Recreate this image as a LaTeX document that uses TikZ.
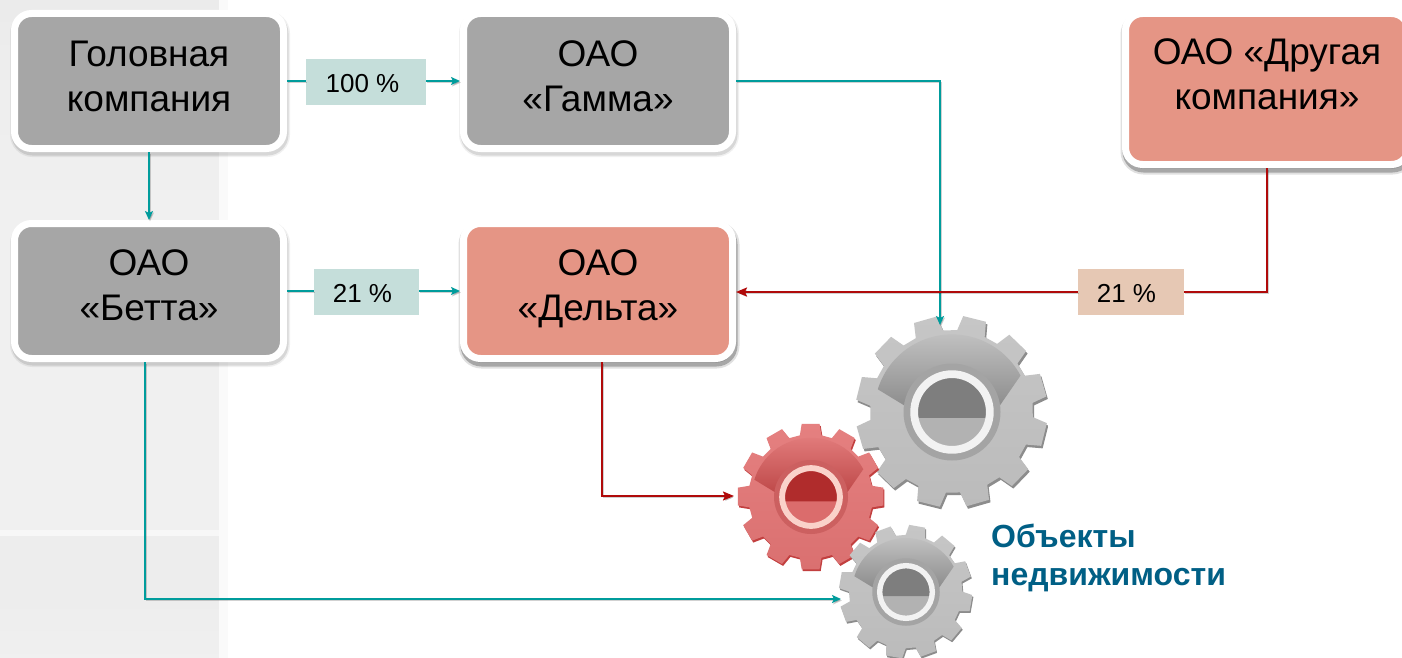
\documentclass[tikz,border=0pt]{standalone}
\usepackage{fontspec}
\setmainfont{Liberation Sans}
\usetikzlibrary{arrows.meta, positioning, shadows}
\definecolor{tealline}{HTML}{009C9C}
\definecolor{redline}{HTML}{B00A0A}
\definecolor{boxgray}{HTML}{A6A6A6}
\definecolor{boxred}{HTML}{E59585}
\definecolor{tagteal}{HTML}{C5DEDA}
\definecolor{tagred}{HTML}{E6C8B4}
\definecolor{objblue}{HTML}{005F85}
% gear palettes
\definecolor{grayrim}{HTML}{8C8C8C}
\definecolor{graytop}{HTML}{C6C6C6}
\definecolor{graybot}{HTML}{BBBBBB}
\definecolor{grayband}{HTML}{8E8E8E}
\definecolor{grayhub}{HTML}{A4A4A4}
\definecolor{grayeye}{HTML}{B2B2B2}
\definecolor{graypupil}{HTML}{7E7E7E}
\definecolor{grayring}{HTML}{F2F2F2}
\definecolor{redrim}{HTML}{C23F3F}
\definecolor{redtop}{HTML}{E58080}
\definecolor{redbot}{HTML}{DA7070}
\definecolor{redband}{HTML}{BF4A4A}
\definecolor{redhub}{HTML}{CC6060}
\definecolor{redeye}{HTML}{DB6C6C}
\definecolor{redpupil}{HTML}{B02C2C}
\definecolor{redring}{HTML}{FAD2CA}
\tikzset{
  softshadow/.style={drop shadow={shadow xshift=1pt, shadow yshift=-3pt, opacity=.06, draw=black, line width=11pt},
    drop shadow={shadow xshift=1pt, shadow yshift=-3pt, opacity=.10, draw=black, line width=8pt}},
  deepshadow/.style={drop shadow={shadow xshift=1pt, shadow yshift=-4pt, opacity=.12, draw=black, line width=12pt},
    drop shadow={shadow xshift=1pt, shadow yshift=-4pt, opacity=.25, draw=black, line width=8pt}},
  firm/.style={draw=white, line width=7pt, outer sep=3.5pt, rounded corners=17pt, minimum width=269pt, minimum height=135pt, inner sep=0pt, font=\fontsize{37}{45}\selectfont, text=black},
  firmgray/.style={firm, fill=boxgray, softshadow},
  firmred/.style={firm, fill=boxred},
  tag/.style={minimum height=46pt, inner sep=0pt, outer sep=0pt, text height=21pt, text depth=0pt, font=\fontsize{26}{30}\selectfont},
  lineshadow/.style={preaction={draw=black, opacity=.18, transform canvas={shift={(1pt,-1.5pt)}}}},
  tealarrow/.style={lineshadow, draw=tealline, line width=1.8pt, -{Stealth[length=9pt,width=8pt,inset=2pt]}},
  tealplain/.style={lineshadow, draw=tealline, line width=1.8pt},
  redarrow/.style={lineshadow, draw=redline, line width=1.8pt, -{Stealth[length=11pt,width=9pt,inset=2pt]}},
  redplain/.style={lineshadow, draw=redline, line width=1.8pt}
}
% two line text of a box, pushed up by a deep last line
\newcommand{\lifted}[2]{\begin{tabular}{@{}c@{}}#2\rule[-#1]{0pt}{0pt}\end{tabular}}
% #1 x, #2 y, #3 size, #4 rotation, #5 palette
\newcommand{\gearwheel}[5]{
  \begin{scope}[shift={(#1,#2)}, x=#3pt, y=#3pt]
    \foreach \dx/\dy/\ctop/\cbot in {1/-2/#5rim/#5rim, -.5/.6/#5top/#5bot}{
      \path[top color=\ctop, bottom color=\cbot, shift={(\dx,\dy)}] ({#4-20}:84)
        \foreach \i in {0,30,...,330}{
          -- ({#4+\i-10}:84) -- ({#4+\i-7}:99) -- ({#4+\i+7}:99) -- ({#4+\i+10}:84)
        } -- cycle;
    }
    \path[top color=#5top, bottom color=#5band] (163:80) arc (163:28:80) -- (8:50) -- (172:50) -- cycle;
    \fill[#5hub] (0,0) circle (50);
    \fill[#5eye] (0,0) circle (36);
    \fill[#5pupil] (-35,-6) arc (190:-10:35.5) -- cycle;
    \draw[#5ring, line width=8*#3pt] (0,0) circle (39);
  \end{scope}
}
\begin{document}
\begin{tikzpicture}[x=1pt, y=-1pt, on grid, node distance=210pt]
  \useasboundingbox (0,0) rectangle (1402,658);
  \clip (0,0) rectangle (1402,658);
  \fill[white] (0,0) rectangle (1402,658);
  % faint paper strip on the left
  \foreach \ya/\yb/\ca/\cb in {0/60/8/7,60/200/7/6,200/530/6/6,530/536/3/3,536/600/7/7,600/658/7/6}
    \shade[top color=black!\ca, bottom color=black!\cb] (0,\ya) rectangle (219,\yb);
  \fill[black!2] (219,0) rectangle (228,658);

  \gearwheel{952}{412}{.97}{76}{gray}
  \gearwheel{811}{497}{.74}{90}{red}
  \gearwheel{906}{592}{.675}{80}{gray}

  \node[firmgray] (head) at (149,81) {\lifted{16pt}{Головная\\компания}};
  \node[firmgray] (gamma) [right=449pt of head] {\lifted{16pt}{ОАО\\«Гамма»}};
  \node[firmgray] (betta) [below=of head] {\lifted{18pt}{ОАО\\«Бетта»}};
  \node[firmred, deepshadow] (delta) [right=449pt of betta] {\lifted{18pt}{ОАО\\«Дельта»}};
  \node[firmred, deepshadow, minimum width=283pt, minimum height=151pt] (other) at (1267,89) {\lifted{35pt}{ОАО «Другая\\компания»}};

  \node[tag, fill=tagteal, minimum width=120pt] (t_head) at (366,82) {100 \%\hspace*{7pt}};
  \node[tag, fill=tagteal, minimum width=105pt] (t_betta) at (366.5,292) {21 \%\hspace*{8pt}};
  \node[tag, fill=tagred, minimum width=106pt] (t_other) at (1131,292) {21 \%\hspace*{9pt}};

  \coordinate (c_big) at (940,325);
  \coordinate (c_red) at (734,496);
  \coordinate (c_low) at (841,599);

  \draw[tealplain] (head.east) -- (t_head.west |- head.east);
  \draw[tealarrow] (t_head.east |- gamma.west) -- (gamma.west);
  \draw[tealarrow] (head.south) -- (betta.north);
  \draw[tealarrow] (gamma.east) -| (c_big);
  \draw[tealplain] (betta.east) -- (t_betta.west |- betta.east);
  \draw[tealarrow] (t_betta.east |- delta.west) -- (delta.west);
  \draw[tealarrow] ([xshift=-4pt]betta.south) |- (c_low);
  \draw[redplain] (other.south) |- (t_other.east);
  \draw[redarrow] (t_other.west) -- (delta.east |- t_other.west);
  \draw[redarrow] ([xshift=4pt]delta.south) |- (c_red);

  \node[anchor=north west, align=left, inner sep=0pt, text=objblue, font=\fontsize{32}{38}\selectfont\bfseries] (objects) at (991,524) {Объекты\\недвижимости};
\end{tikzpicture}
\end{document}
